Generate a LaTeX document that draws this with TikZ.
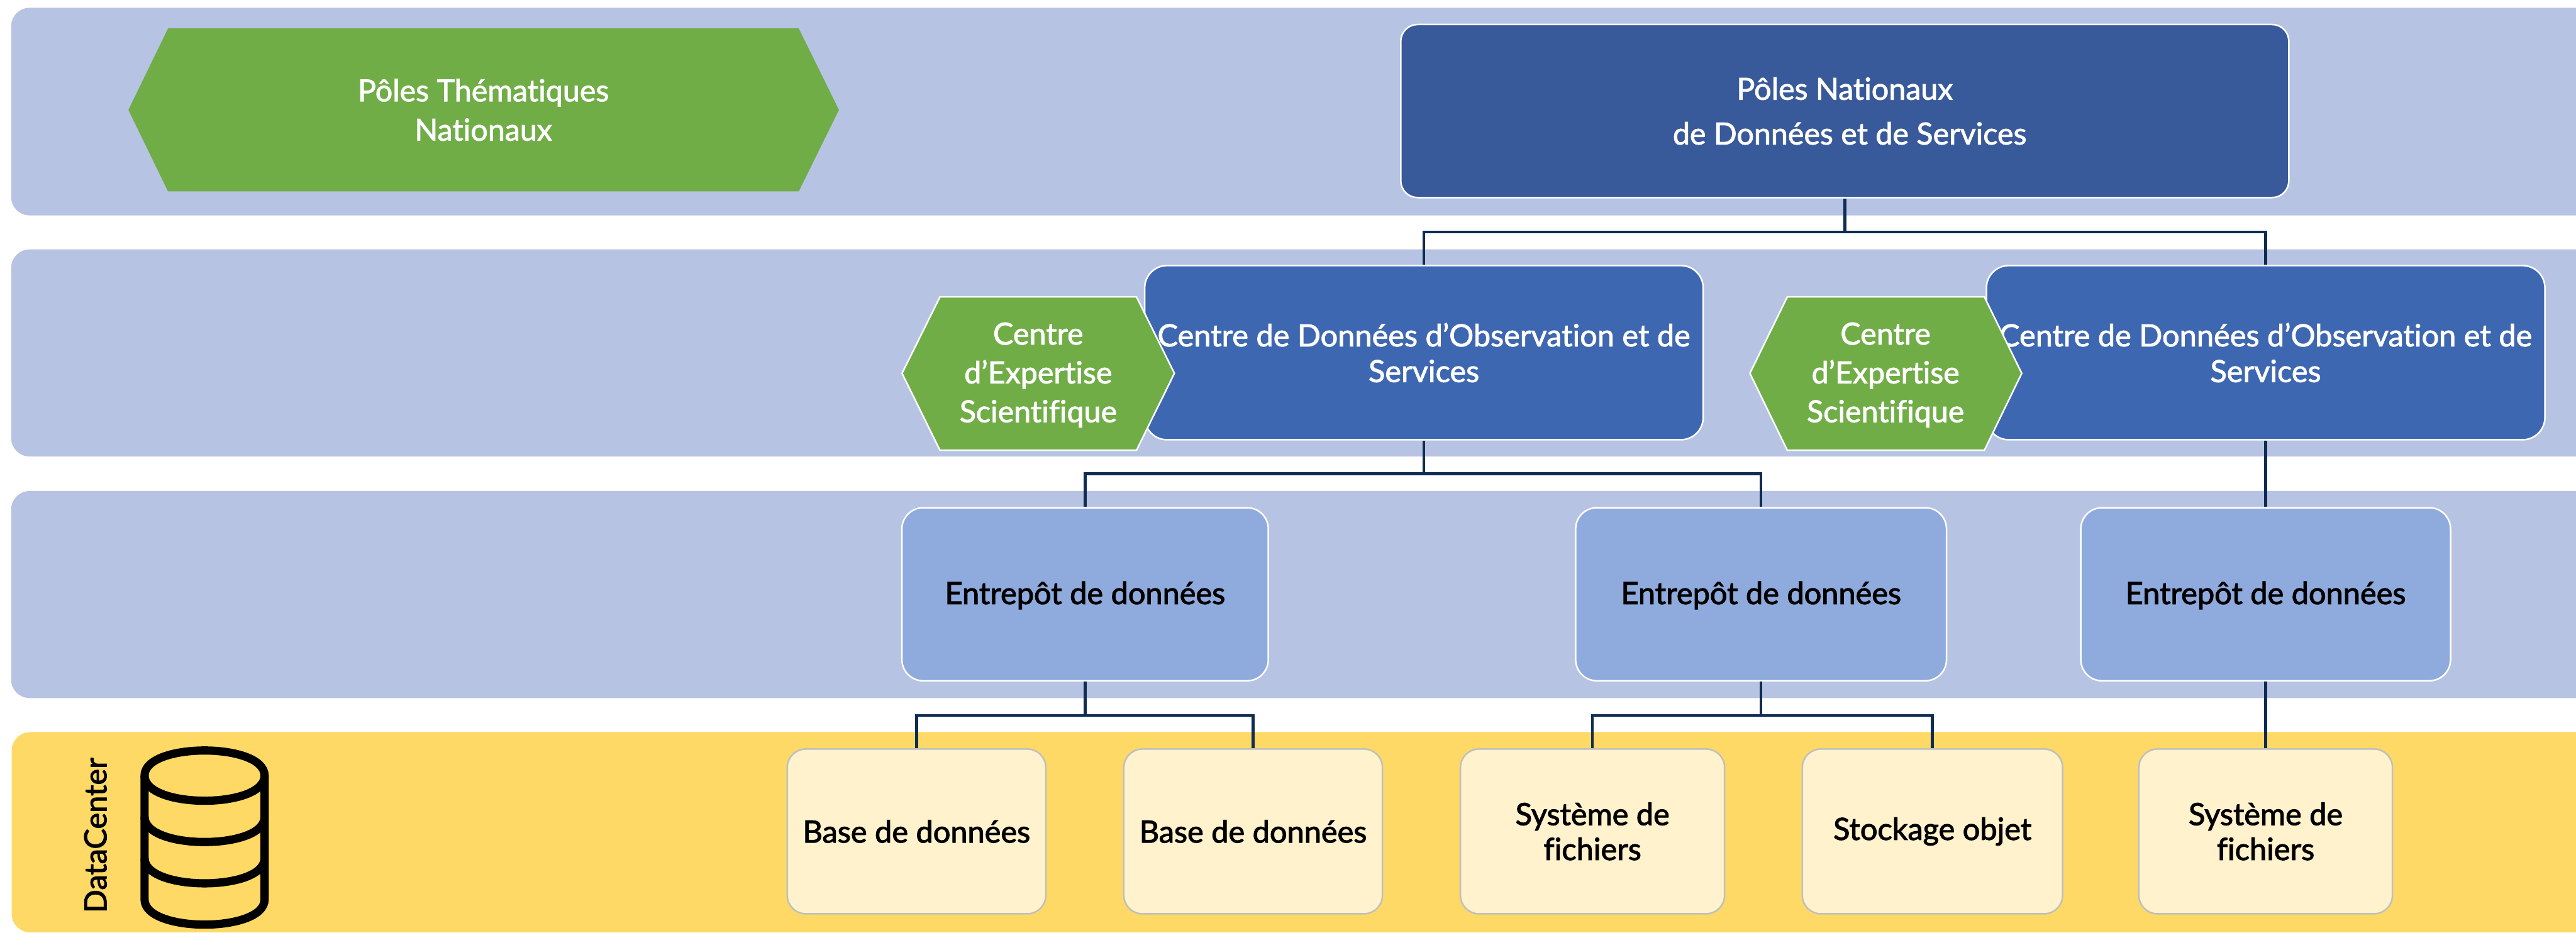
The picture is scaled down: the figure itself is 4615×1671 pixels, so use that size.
\documentclass[tikz,border=0pt]{standalone}
\usepackage{fontspec}
\setmainfont{Lato}[Ligatures=NoCommon]
\newfontfamily\medfont{Lato}[FakeBold=1.8,Ligatures=NoCommon]
\newfontfamily\darkfont{Lato}[FakeBold=2.2,Ligatures=NoCommon]
\definecolor{band}{HTML}{B7C3E2}
\definecolor{yband}{HTML}{FFD966}
\definecolor{hexgreen}{HTML}{70AD47}
\definecolor{topblue}{HTML}{385A9A}
\definecolor{midblue}{HTML}{3E67B1}
\definecolor{storeblue}{HTML}{8FAADC}
\definecolor{cream}{HTML}{FFF2CC}
\definecolor{linkc}{HTML}{0F2C52}
\tikzset{
  x=0.01cm,y=-0.01cm,
  bandrect/.style={rounded corners=0.33cm},
  boxbase/.style={rectangle,inner sep=0pt,align=center},
  topbox/.style={boxbase,draw=white,line width=0.8pt,fill=topblue,text=white,rounded corners=0.3cm,font=\medfont\fontsize{15.5}{22.8}\selectfont},
  midbox/.style={boxbase,draw=white,line width=0.8pt,fill=midblue,text=white,rounded corners=0.4cm,font=\medfont\fontsize{15.6}{18.2}\selectfont},
  storebox/.style={boxbase,draw=white,line width=0.8pt,fill=storeblue,text=black,rounded corners=0.38cm,font=\darkfont\fontsize{15.6}{18}\selectfont},
  mediabox/.style={boxbase,draw=black!25,line width=0.8pt,fill=cream,text=black,rounded corners=0.33cm,font=\darkfont\fontsize{15.6}{17.8}\selectfont},
  hexline/.style={fill=hexgreen,draw=white,line width=0.8pt},
  hextext/.style={inner sep=0pt,align=center,text=white,font=\medfont\fontsize{15.5}{19.8}\selectfont},
  link/.style={draw=linkc,line width=1.45pt},
  drum/.style={draw=black,line width=4.2pt}
}
\begin{document}
\begin{tikzpicture}
\useasboundingbox (0,0) rectangle (4615,1671);
\clip (0,0) rectangle (4615,1671);
% bands
\fill[band,bandrect] (20,14) rectangle (4800,386);
\fill[band,bandrect] (20,447) rectangle (4800,818);
\fill[band,bandrect] (20,880) rectangle (4800,1251);
\fill[yband,bandrect] (21,1312) rectangle (4800,1671);
% nodes
\node[topbox,minimum width=15.9cm,minimum height=3.1cm] (pnds) at (3305,199) {Pôles Nationaux\\\hspace*{5pt}de Données et de Services};
\node[midbox,minimum width=10cm,minimum height=3.12cm] (cdo1) at (2551,632) {Centre de Données d’Observation et de\\Services};
\node[midbox,minimum width=10cm,minimum height=3.12cm] (cdo2) at (4059,632) {Centre de Données d’Observation et de\\Services};
\node[storebox,minimum width=6.56cm,minimum height=3.1cm] (ed1) at (1944,1065) {\raisebox{0pt}[10pt][0pt]{Entrepôt de données}};
\node[storebox,minimum width=6.64cm,minimum height=3.1cm] (ed2) at (3155,1065) {\raisebox{0pt}[10pt][0pt]{Entrepôt de données}};
\node[storebox,minimum width=6.62cm,minimum height=3.1cm] (ed3) at (4059,1065) {\raisebox{0pt}[10pt][0pt]{Entrepôt de données}};
\node[mediabox,minimum width=4.63cm,minimum height=2.95cm] (m1) at (1642,1490) {Base de données};
\node[mediabox,minimum width=4.63cm,minimum height=2.95cm] (m2) at (2245,1490) {Base de données};
\node[mediabox,minimum width=4.73cm,minimum height=2.95cm] (m3) at (2853,1490) {Système de\\fichiers};
\node[mediabox,minimum width=4.66cm,minimum height=2.95cm] (m4) at (3462,1490) {Stockage objet};
\node[mediabox,minimum width=4.54cm,minimum height=2.95cm] (m5) at (4059,1490) {Système de\\fichiers};
% hexagons
\fill[hexgreen] (230,197) -- (301,51) -- (1431,51) -- (1503,197) -- (1431,343) -- (301,343) -- cycle;
\node[hextext,font=\medfont\fontsize{15.5}{20}\selectfont] (ptn) at (866,197) {Pôles Thématiques\\Nationaux};
\draw[hexline] (1616,669) -- (1684,532) -- (2036,532) -- (2104,669) -- (2036,807) -- (1684,807) -- cycle;
\node[hextext] (ces1) at (1860,672) {Centre\\d’Expertise\\Scientifique};
\draw[hexline] (3135,669) -- (3202,532) -- (3555,532) -- (3622,669) -- (3555,807) -- (3202,807) -- cycle;
\node[hextext] (ces2) at (3378,672) {Centre\\d’Expertise\\Scientifique};
% connectors
\coordinate (bus1) at (3305,416);
\coordinate (bus2) at (2551,849);
\coordinate (bus3) at (1944,1282);
\coordinate (bus4) at (3155,1282);
\draw[link] (cdo1.north) |- (bus1) -| (cdo2.north);
\draw[link] (pnds.south) -- (bus1);
\draw[link] (ed1.north) |- (bus2) -| (ed2.north);
\draw[link] (cdo1.south) -- (bus2);
\draw[link] (cdo2.south) -- (ed3.north);
\draw[link] (m1.north) |- (bus3) -| (m2.north);
\draw[link] (ed1.south) -- (bus3);
\draw[link] (m3.north) |- (bus4) -| (m4.north);
\draw[link] (ed2.south) -- (bus4);
\draw[link] (ed3.south) -- (m5.north);
% datacenter
\node[rotate=90,inner sep=0pt,text=black,font=\darkfont\fontsize{15.6}{18}\selectfont] (dc) at (171,1497) {DataCenter};
\draw[drum] (259,1390) .. controls (259,1330) and (474,1330) .. (474,1390) .. controls (474,1450) and (259,1450) .. (259,1390) -- cycle;
\draw[drum] (259,1390) -- (259,1612) .. controls (259,1672) and (474,1672) .. (474,1612) -- (474,1390);
\draw[drum] (259,1464) .. controls (259,1524) and (474,1524) .. (474,1464);
\draw[drum] (259,1538) .. controls (259,1598) and (474,1598) .. (474,1538);
\end{tikzpicture}
\end{document}
